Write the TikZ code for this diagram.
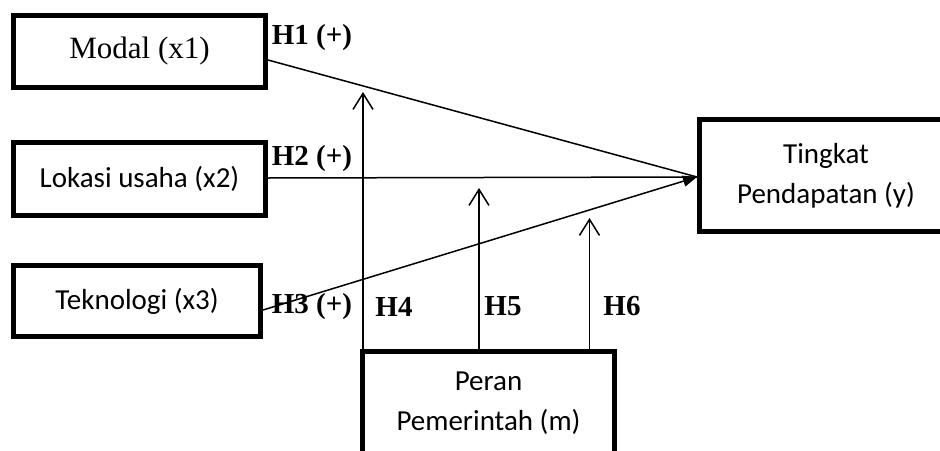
\documentclass[tikz,border=0pt]{standalone}
\usepackage{fontspec}
\setmainfont{Liberation Serif}
\newfontfamily\calfont{Carlito}
\usetikzlibrary{arrows.meta,calc}

\begin{document}
\begin{tikzpicture}[x=1pt,y=-1pt,
  var/.style={draw,line width=5pt,inner sep=0pt,align=center,
    font=\calfont\fontsize{29}{40}\selectfont},
  link/.style={line width=1.5pt},
  hyp/.style={font=\bfseries\fontsize{29}{34}\selectfont,inner sep=0pt},
  moder/.style={link,-{Straight Barb[length=16pt,width=20pt]}}
]
\useasboundingbox (0,0) rectangle (940,450);
\fill[white] (0,0) rectangle (940,450);

% variable boxes
\node[var,minimum width=252pt,minimum height=72pt,
      font=\fontsize{31}{36}\selectfont] (x1) at (139.5,51.5) {Modal (x1)};
\node[var,minimum width=252pt,minimum height=73pt] (x2) at (139.5,179) {Lokasi usaha (x2)};
\node[var,minimum width=247pt,minimum height=71pt] (x3) at (137,301) {Teknologi (x3)};
\node[var,minimum width=253pt,minimum height=112pt] (y) at (826,175.5) {Tingkat\\Pendapatan (y)};
\node[var,minimum width=252pt,minimum height=104pt] (m) at (488.5,403.5) {Peran\\Pemerintah (m)};

% hypothesis labels
\node[hyp] (l1) at (312,38) {H1 (+)};
\node[hyp] (l2) at (312,159) {H2 (+)};
\node[hyp] (l3) at (312,307) {H3 (+)};
\node[hyp] (l4) at (394,307) {H4};
\node[hyp] (l5) at (503,306) {H5};
\node[hyp] (l6) at (622,306) {H6};

% direct effects
\coordinate (tip) at ([yshift=-1.5pt]y.west);
\draw[link] ([yshift=-8.5pt]x1.east) -- (tip);
\draw[link] ([yshift=1pt]x2.east) -- (tip);
\draw[link,-{Triangle[length=14pt,width=11pt]}] ([yshift=-9pt]x3.east) -- (tip);

% moderating effects
\coordinate (h4) at (363,92);
\coordinate (h5) at (479,188);
\coordinate (h6) at (589.5,218);
\draw[moder] (m.north -| h4) -- (h4);
\draw[moder] (m.north -| h5) -- (h5);
\draw[moder] (m.north -| h6) -- (h6);
\end{tikzpicture}
\end{document}
